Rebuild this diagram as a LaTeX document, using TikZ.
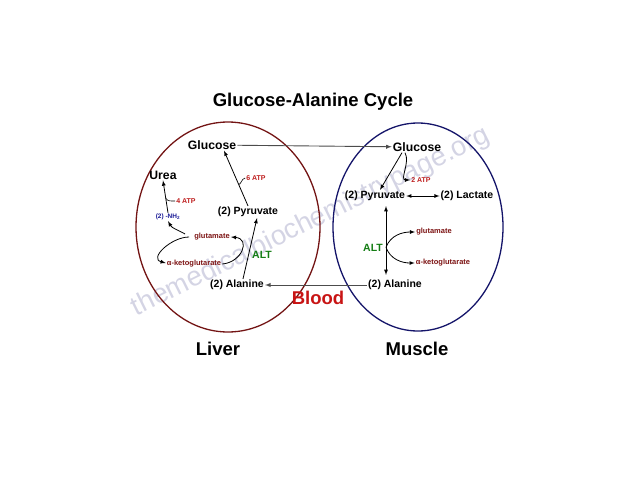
\documentclass[tikz,border=0pt]{standalone}
\usepackage{fontspec}
\setmainfont{Liberation Sans}
\usetikzlibrary{arrows.meta}

\definecolor{liverred}{RGB}{115,20,20}
\definecolor{musclenavy}{RGB}{20,20,105}
\definecolor{atpred}{RGB}{190,30,30}
\definecolor{acidred}{RGB}{125,20,20}
\definecolor{altgreen}{RGB}{20,125,20}
\definecolor{nhblue}{RGB}{25,25,150}
\definecolor{bloodred}{RGB}{200,20,20}
\definecolor{markgray}{RGB}{212,212,228}

\tikzset{
  mol/.style={font=\fontsize{10.5}{12}\selectfont\bfseries, inner sep=1pt},
  sugar/.style={font=\fontsize{12.2}{14}\selectfont\bfseries, inner sep=1pt},
  atp/.style={font=\fontsize{7}{8}\selectfont\bfseries, text=atpred, inner sep=1pt},
  acid/.style={font=\fontsize{7.5}{9}\selectfont\bfseries, text=acidred, inner sep=1pt},
  enz/.style={font=\fontsize{10.5}{12}\selectfont\bfseries, text=altgreen, inner sep=1pt},
  organ/.style={font=\fontsize{18.5}{22}\selectfont\bfseries},
  flow/.style={-{latex}, line width=0.8pt},
  twoway/.style={{latex}-{latex}, line width=0.8pt},
  lead/.style={line width=0.6pt},
  blood/.style={-{latex}, line width=0.9pt, black!70}
}

\begin{document}
\begin{tikzpicture}[x=1pt,y=-1pt]

    \useasboundingbox (0,0) rectangle (640,480);

    % watermark
    \node[font=\fontsize{27.5}{30}\selectfont, text=markgray, rotate=26.3] (mark) at (311,222) {themedicalbiochemistrypage.org};

    % title and organs
    \node[font=\fontsize{18.5}{22}\selectfont\bfseries] (title) at (313,102) {Glucose-Alanine Cycle};
    \draw[liverred, line width=1.3pt] (228,227) ellipse [x radius=92pt, y radius=105pt]; % liver
    \draw[musclenavy, line width=1.3pt] (418,227) ellipse [x radius=85pt, y radius=104pt]; % muscle
    \node[organ] (liver) at (218,349) {Liver};
    \node[organ] (muscle) at (417,349) {Muscle};
    \node[organ, text=bloodred] (blood) at (318,298) {Blood};

    % liver
    \node[sugar] (lglc) at (212,145) {Glucose};
    \node[mol] (lpyr) at (248,212) {(2) Pyruvate};
    \node[mol] (lala) at (237,285) {(2) Alanine};
    \node[sugar] (urea) at (163,175) {Urea};
    \node[font=\fontsize{6.5}{8}\selectfont\bfseries, text=nhblue, inner sep=1pt] (nh) at (168,217) {(2) -NH\textsubscript{2}};
    \node[atp] (latp4) at (186,201) {4 ATP};
    \node[atp] (latp6) at (256,178) {6 ATP};
    \node[acid] (lglu) at (212,237) {glutamate};
    \node[acid] (lakg) at (194,264) {α-ketoglutarate};
    \node[enz] (lalt) at (262,255) {ALT};

    \draw[flow] (lpyr.north) -- coordinate[pos=0.4] (l6) ([xshift=12pt]lglc.south); % pyruvate -> glucose
    \draw[lead] (l6) to[out=-60,in=180] (latp6.west);
    \draw[flow] ([xshift=6pt]lala.north) -- ([xshift=9pt]lpyr.south); % alanine -> pyruvate
    \draw[flow] (nh.north) -- coordinate[pos=0.45] (l4) (urea.south); % NH2 -> urea
    \draw[lead] (l4) to[out=-60,in=180] (latp4.west);
    \draw[flow] (lakg.east) to[out=5,in=-5,looseness=1.8] (lglu.east); % ALT loop
    \draw[flow] ([xshift=-4pt]lglu.west) to[out=180,in=165,looseness=1.3] ([yshift=1pt]lakg.west); % glutamate -> akg
    \draw[flow] ([xshift=-8pt,yshift=3pt]lglu.west) to[out=150,in=-60] (nh.south); % -> NH2

    % muscle
    \node[sugar] (mglc) at (417,147) {Glucose};
    \node[mol] (mpyr) at (375,196) {(2) Pyruvate};
    \node[mol] (mlac) at (467,196) {(2) Lactate};
    \node[mol] (mala) at (395,285) {(2) Alanine};
    \node[atp] (matp) at (421,180) {2 ATP};
    \node[acid] (mglu) at (434,232) {glutamate};
    \node[acid] (makg) at (443,263) {α-ketoglutarate};
    \node[enz] (malt) at (373,248) {ALT};

    \draw[flow] ([xshift=-15pt]mglc.south) -- ([xshift=5pt]mpyr.north); % glucose -> pyruvate
    \draw[flow] ([xshift=-12pt]mglc.south) to[out=-60,in=180] (matp.west); % -> 2 ATP
    \draw[twoway] (mpyr) -- (mlac); % pyruvate <-> lactate
    \draw[twoway] ([xshift=11pt,yshift=-4pt]mpyr.south) -- coordinate[pos=0.6] (mmid) ([xshift=-9pt,yshift=4pt]mala.north); % pyruvate <-> alanine
    \draw[flow] (mmid) to[out=70,in=180] (mglu.west);
    \draw[flow] (mmid) to[out=-70,in=180] (makg.west);

    % between organs
    \draw[blood] (lglc) -- (mglc);
    \draw[blood] (mala) -- (lala);

\end{tikzpicture}
\end{document}
